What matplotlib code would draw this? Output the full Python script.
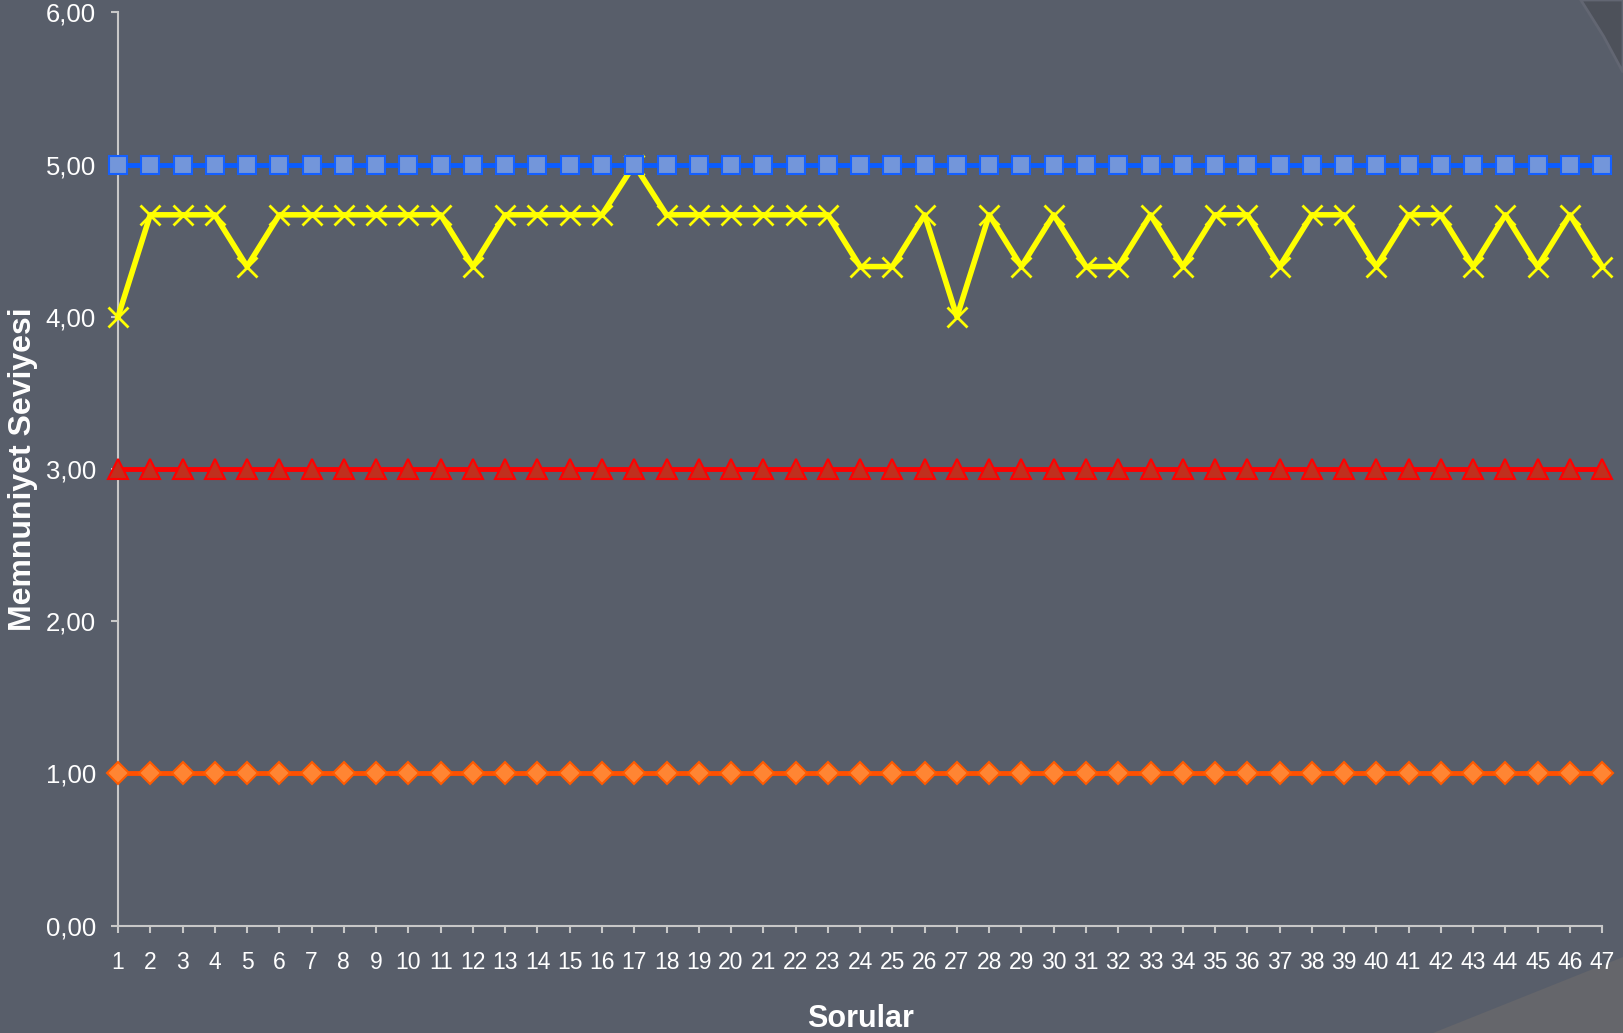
import matplotlib.pyplot as plt
from matplotlib.patches import Polygon

plt.rcParams['font.family'] = ['Liberation Sans', 'DejaVu Sans']

# data
sorular = list(range(1, 48))
ust_sinir = [5.00] * 47
orta = [3.00] * 47
alt_sinir = [1.00] * 47
memnuniyet = [4.00, 4.67, 4.67, 4.67, 4.33, 4.67, 4.67, 4.67, 4.67, 4.67,
              4.67, 4.33, 4.67, 4.67, 4.67, 4.67, 5.00, 4.67, 4.67, 4.67,
              4.67, 4.67, 4.67, 4.33, 4.33, 4.67, 4.00, 4.67, 4.33, 4.67,
              4.33, 4.33, 4.67, 4.33, 4.67, 4.67, 4.33, 4.67, 4.67, 4.33,
              4.67, 4.67, 4.33, 4.67, 4.33, 4.67, 4.33]
y_ticks = [0, 1, 2, 3, 4, 5, 6]
y_tick_labels = ['0,00', '1,00', '2,00', '3,00', '4,00', '5,00', '6,00']

bg = '#585e6a'
fig = plt.figure(figsize=(16.23, 10.33), dpi=100, facecolor=bg)

# decorative corners of the slide (behind the chart)
fig.patches.append(Polygon([[0.883, 0.0], [1.0, 0.0], [1.0, 0.074]], closed=True,
                           transform=fig.transFigure, facecolor='#65666b',
                           edgecolor='none', zorder=-1))
fig.patches.append(Polygon([[0.974, 1.0], [1.0, 1.0], [1.0, 0.93], [0.988, 0.965]],
                           closed=True, transform=fig.transFigure,
                           facecolor='#4d515a', edgecolor='#626672', lw=2, zorder=-1))

ax = fig.add_axes([0.0727, 0.1040, 0.9145, 0.8840])
ax.set_facecolor('none')

ax.plot(sorular, alt_sinir, color='#ff5000', lw=3.5, marker='D', ms=11,
        mfc='#ff8533', mec='#ff5a00', mew=1.5, clip_on=False, zorder=3)
ax.plot(sorular, memnuniyet, color='#ffff00', lw=4, marker='x', ms=14,
        mec='#ffff00', mew=2, clip_on=False, zorder=3)
ax.plot(sorular, orta, color='#ff0000', lw=3.5, marker='^', ms=14,
        mfc='#c0301e', mec='#ff0000', mew=1.5, clip_on=False, zorder=4)
ax.plot(sorular, ust_sinir, color='#0a5cff', lw=3.5, marker='s', ms=13,
        mfc='#7396da', mec='#1560ff', mew=1.5, clip_on=False, zorder=5)

ax.set_xlim(1, 47)
ax.set_ylim(0, 6)
ax.set_xticks(sorular)
ax.set_xticklabels([str(s) for s in sorular])
ax.set_yticks(y_ticks)
ax.set_yticklabels(y_tick_labels)

for s in ['top', 'right']:
    ax.spines[s].set_visible(False)
for s in ['left', 'bottom']:
    ax.spines[s].set_color('#c8c8c8')
    ax.spines[s].set_linewidth(1.5)
ax.tick_params(axis='both', colors='#c8c8c8', labelcolor='white',
               length=5, width=1.5)
ax.tick_params(axis='x', labelsize=16.5, pad=13)
ax.tick_params(axis='y', labelsize=18.5, pad=11)

ax.set_xlabel('Sorular', color='white', fontsize=22, fontweight='bold', labelpad=22)
ax.set_ylabel('Memnuniyet Seviyesi', color='white', fontsize=23, fontweight='bold')
ax.yaxis.set_label_coords(-0.054, 0.5)

fig.savefig('out.png', dpi=100, facecolor=bg)
